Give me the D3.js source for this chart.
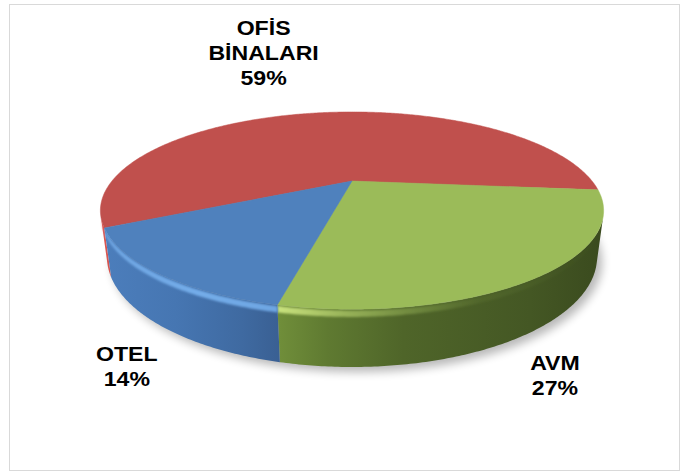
<!DOCTYPE html>
<html><head><meta charset="utf-8">
<script src="https://cdn.jsdelivr.net/npm/d3@7/dist/d3.min.js"></script>
<style>body{margin:0;background:#fff} svg{display:block}</style>
</head><body>
<svg id="chart" width="686" height="473"></svg>
<script>
// ---- data ----
const categories = ["OFİS BİNALARI", "AVM", "OTEL"];
const values = [59, 27, 14];
const topColors = ["#C0504D", "#9BBB59", "#4F81BD"];
const sideStops = [
  [[0, "#DA5651"], [0.1, "#C94B47"], [1, "#B7433F"]],
  [[0.33, "#74933C"], [0.45, "#5F7A31"], [0.6, "#4F6529"], [0.85, "#445724"], [1, "#3A4A1E"]],
  [[0, "#4C7EBC"], [0.15, "#4676B2"], [0.28, "#3F6AA1"], [0.36, "#395F92"]]
];
const bevelStops = [
  [[0, "#F0625C", 0.9], [1, "#F0625C", 0.6]],
  [[0.33, "#D6EE88", 0.95], [0.5, "#B9D570", 0.6], [0.75, "#9BBB59", 0.1], [1, "#9BBB59", 0]],
  [[0, "#7DB6F2", 0.7], [0.2, "#79B3F0", 0.9], [0.36, "#74ADEB", 0.9]]
];

// ---- layout ----
const svg = d3.select("#chart");
const defs = svg.append("defs");

svg.append("rect").attr("x", 9.5).attr("y", 4.5).attr("width", 670).attr("height", 466)
  .attr("fill", "#fff").attr("stroke", "#D9D9D9");

// perspective projection of a unit disc
const cx = 352, cy = 181, f = 741.9, D = 3.091, sinP = 0.374, cosP = Math.sqrt(1 - sinP * sinP), thick = 0.202;
function proj(t, r, h) {
  const x = r * Math.cos(t), z = r * Math.sin(t);
  const v = h * cosP - z * sinP;
  const w = D - h * sinP - z * cosP;
  return [cx + f * x / w, cy - f * v / w];
}
const rot = 153.1 * Math.PI / 180;
const pie = d3.pie().sort(null).value(d => d)(values);
const line = d3.line();
const arcPts = (t0, t1, r, h) => {
  const n = Math.max(2, Math.ceil(Math.abs(t1 - t0) / 0.01));
  return d3.range(n + 1).map(i => proj(t0 + (t1 - t0) * i / n, r, h));
};

// filters
const blur = defs.append("filter").attr("id", "shadow").attr("x", "-20%").attr("y", "-20%").attr("width", "140%").attr("height", "140%");
blur.append("feGaussianBlur").attr("stdDeviation", 5);
const soft = defs.append("filter").attr("id", "soft").attr("x", "-5%").attr("y", "-50%").attr("width", "110%").attr("height", "200%");
soft.append("feGaussianBlur").attr("stdDeviation", 1.2);

// shadow
svg.append("path")
  .attr("d", line(arcPts(0, 2 * Math.PI, 1, -thick)) + "Z")
  .attr("transform", "translate(5,5)")
  .attr("fill", "#000").attr("opacity", 0.28).attr("filter", "url(#shadow)");

// visible side range
const half = Math.acos(1 / (D * cosP));
const vis0 = Math.PI / 2 - half, vis1 = Math.PI / 2 + half;

pie.forEach((p, i) => {
  let t0 = p.startAngle + rot, t1 = p.endAngle + rot;
  const k = Math.floor(t0 / (2 * Math.PI));
  t0 -= k * 2 * Math.PI; t1 -= k * 2 * Math.PI;
  const g = defs.append("linearGradient").attr("id", "side" + i).attr("gradientUnits", "userSpaceOnUse")
    .attr("x1", 100).attr("x2", 606).attr("y1", 0).attr("y2", 0);
  sideStops[i].forEach(s => g.append("stop").attr("offset", s[0]).attr("stop-color", s[1]));
  const b = defs.append("linearGradient").attr("id", "bevel" + i).attr("gradientUnits", "userSpaceOnUse")
    .attr("x1", 100).attr("x2", 606).attr("y1", 0).attr("y2", 0);
  bevelStops[i].forEach(s => b.append("stop").attr("offset", s[0]).attr("stop-color", s[1]).attr("stop-opacity", s[2]));
  [[vis0, vis1], [vis0 + 2 * Math.PI, vis1 + 2 * Math.PI]].forEach(([a0, a1]) => {
    const s = Math.max(t0, a0), e = Math.min(t1, a1);
    if (e <= s) return;
    const pts = arcPts(s, e, 1, 0).concat(arcPts(e, s, 1, -thick));
    svg.append("path").attr("d", line(pts) + "Z").attr("fill", "url(#side" + i + ")");
    const bp = arcPts(s, e, 1, -0.004).concat(arcPts(e, s, 1, -0.026));
    svg.append("path").attr("d", line(bp) + "Z").attr("fill", "url(#bevel" + i + ")").attr("filter", "url(#soft)");
  });
});

// top faces
pie.forEach((p, i) => {
  const t0 = p.startAngle + rot, t1 = p.endAngle + rot;
  const pts = [proj(0, 0, 0)].concat(arcPts(t0, t1, 1, 0));
  svg.append("path").attr("d", line(pts) + "Z").attr("fill", topColors[i])
    .attr("stroke", topColors[i]).attr("stroke-width", 0.5);
});

// labels
const fmt = d3.format(".0%");
const total = d3.sum(values);
const nudges = [[-54, -78], [17, 93], [-32, 87]];
pie.forEach((p, i) => {
  const mid = (p.startAngle + p.endAngle) / 2 + rot;
  const [mx, my] = proj(mid, 1, 0);
  const lines = categories[i].split(" ").concat([fmt(values[i] / total)]);
  const t = svg.append("g")
    .attr("transform", `translate(${mx + nudges[i][0]},${my + nudges[i][1]}) scale(1.1,1)`)
    .append("text")
    .attr("text-anchor", "middle")
    .attr("font-family", "'Liberation Sans', Arial, sans-serif")
    .attr("font-weight", "bold").attr("font-size", 21).attr("fill", "#000");
  lines.forEach((l, j) => t.append("tspan").attr("x", 0).attr("dy", j ? 25 : 0).text(l));
});
</script>
</body></html>
